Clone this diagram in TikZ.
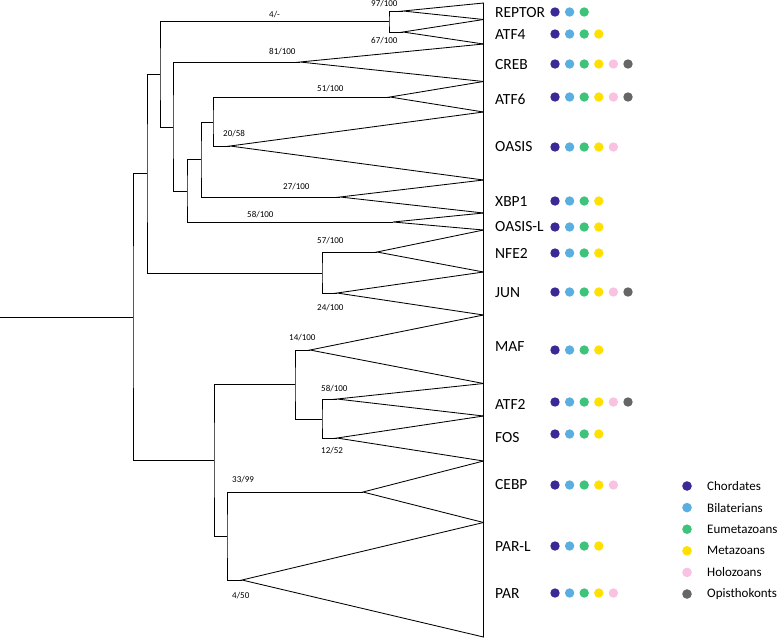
\documentclass[tikz,border=0pt]{standalone}
\usepackage{fontspec}
\setmainfont{Carlito}
\definecolor{chor}{HTML}{3A2A96}
\definecolor{bila}{HTML}{5AAEE0}
\definecolor{eume}{HTML}{3EC47A}
\definecolor{meta}{HTML}{FFE000}
\definecolor{holo}{HTML}{F9C2E2}
\definecolor{opis}{HTML}{666666}
\newcommand\dotrow[2]{\foreach \c [count=\i from 0] in {#2}{\fill[\c] (555+14.6*\i,#1) circle (4.7);}}
\begin{document}
\begin{tikzpicture}[x=1pt,y=-1pt,
  tree/.style={line width=0.95pt},
  clade/.style={line width=0.85pt, line join=miter},
  taxon/.style={anchor=west, inner sep=0pt, font=\fontsize{15.5}{18}\selectfont},
  sup/.style={anchor=west, inner sep=0pt, font=\fontsize{9}{11}\selectfont},
  leg/.style={anchor=west, inner sep=0pt, font=\fontsize{13}{15}\selectfont}]
\useasboundingbox (0,0) rectangle (778,638);
% internal nodes
\coordinate (root) at (0,317);
\coordinate (n1) at (133,317);
\coordinate (n2) at (147,173);
\coordinate (n3) at (160,74);
\coordinate (nRA) at (389,21);
\coordinate (n4) at (173,127);
\coordinate (n5) at (187,191);
\coordinate (n6) at (201,159);
\coordinate (n7) at (213,122);
\coordinate (nJ) at (322,273);
\coordinate (n10) at (214,460);
\coordinate (n11) at (295,384);
\coordinate (n13) at (322,419);
\coordinate (n12) at (227,536);
% clade apexes
\coordinate (aREP) at (403,11);
\coordinate (aATF4) at (403,32);
\coordinate (aCREB) at (300,62);
\coordinate (aATF6) at (390,97);
\coordinate (aOAS) at (230,146);
\coordinate (aXBP) at (340,197);
\coordinate (aOASL) at (393,222);
\coordinate (aNFE) at (377,252);
\coordinate (aJUN) at (337,293);
\coordinate (aMAF) at (310,350);
\coordinate (aATF2) at (337,399);
\coordinate (aFOS) at (337,438);
\coordinate (aCEBP) at (363,492);
\coordinate (aPAR) at (242,580);
% clade base boundaries
\foreach \k/\y in {0/3,1/19.5,2/44,3/81.5,4/112,5/180,6/213,7/230,8/272,9/315,10/383.5,11/416,12/461,13/522.5,14/637}
  \coordinate (b\k) at (483.5,\y);
% branches
\draw[tree] (root) -- (n1);
\draw[tree] (n2) -| (n1) |- (n10);
\draw[tree] (n3) -| (n2) |- (nJ);
\draw[tree] (nRA) -| (n3) |- (n4);
\draw[tree] (aREP) -| (nRA) |- (aATF4);
\draw[tree] (aCREB) -| (n4) |- (n5);
\draw[tree] (n6) -| (n5) |- (aOASL);
\draw[tree] (n7) -| (n6) |- (aXBP);
\draw[tree] (aATF6) -| (n7) |- (aOAS);
\draw[tree] (aNFE) -| (nJ) |- (aJUN);
\draw[tree] (n11) -| (n10) |- (n12);
\draw[tree] (aMAF) -| (n11) |- (n13);
\draw[tree] (aATF2) -| (n13) |- (aFOS);
\draw[tree] (aCEBP) -| (n12) |- (aPAR);
% clades
\draw[clade] (aREP) -- (b0) -- (b1) -- cycle;
\draw[clade] (aATF4) -- (b1) -- (b2) -- cycle;
\draw[clade] (aCREB) -- (b2) -- (b3) -- cycle;
\draw[clade] (aATF6) -- (b3) -- (b4) -- cycle;
\draw[clade] (aOAS) -- (b4) -- (b5) -- cycle;
\draw[clade] (aXBP) -- (b5) -- (b6) -- cycle;
\draw[clade] (aOASL) -- (b6) -- (b7) -- cycle;
\draw[clade] (aNFE) -- (b7) -- (b8) -- cycle;
\draw[clade] (aJUN) -- (b8) -- (b9) -- cycle;
\draw[clade] (aMAF) -- (b9) -- (b10) -- cycle;
\draw[clade] (aATF2) -- (b10) -- (b11) -- cycle;
\draw[clade] (aFOS) -- (b11) -- (b12) -- cycle;
\draw[clade] (aCEBP) -- (b12) -- (b13) -- cycle;
\draw[clade] (aPAR) -- (b13) -- (b14) -- cycle;
% support values
\node[sup] (s1) at (269,15) {4/-};
\node[sup] (s2) at (371,4) {97/100};
\node[sup] (s3) at (371,41) {67/100};
\node[sup] (s4) at (269,52) {81/100};
\node[sup] (s5) at (317,89) {51/100};
\node[sup] (s6) at (223,134) {20/58};
\node[sup] (s7) at (283,187) {27/100};
\node[sup] (s8) at (247,215) {58/100};
\node[sup] (s9) at (317,241) {57/100};
\node[sup] (s10) at (317,308) {24/100};
\node[sup] (s11) at (289,338) {14/100};
\node[sup] (s12) at (321,389) {58/100};
\node[sup] (s13) at (321,451) {12/52};
\node[sup] (s14) at (232,480) {33/99};
\node[sup] (s15) at (232,596) {4/50};
% taxon names
\node[taxon] (tREP) at (495,13) {REPTOR};
\node[taxon] (tATF4) at (495,35) {ATF4};
\node[taxon] (tCREB) at (495,65) {CREB};
\node[taxon] (tATF6) at (495,99) {ATF6};
\node[taxon] (tOAS) at (495,147) {OASIS};
\node[taxon] (tXBP) at (495,202) {XBP1};
\node[taxon] (tOASL) at (495,227) {OASIS-L};
\node[taxon] (tNFE) at (495,253) {NFE2};
\node[taxon] (tJUN) at (495,293) {JUN};
\node[taxon] (tMAF) at (495,347) {MAF};
\node[taxon] (tATF2) at (495,404) {ATF2};
\node[taxon] (tFOS) at (495,438) {FOS};
\node[taxon] (tCEBP) at (495,485) {CEBP};
\node[taxon] (tPARL) at (495,547) {PAR-L};
\node[taxon] (tPAR) at (495,594) {PAR};
% presence dots
\dotrow{12}{chor,bila,eume}
\dotrow{34}{chor,bila,eume,meta}
\dotrow{64}{chor,bila,eume,meta,holo,opis}
\dotrow{97}{chor,bila,eume,meta,holo,opis}
\dotrow{147}{chor,bila,eume,meta,holo}
\dotrow{201}{chor,bila,eume,meta}
\dotrow{227}{chor,bila,eume,meta}
\dotrow{253}{chor,bila,eume,meta}
\dotrow{292}{chor,bila,eume,meta,holo,opis}
\dotrow{350}{chor,bila,eume,meta}
\dotrow{402}{chor,bila,eume,meta,holo,opis}
\dotrow{434}{chor,bila,eume,meta}
\dotrow{485}{chor,bila,eume,meta,holo}
\dotrow{546}{chor,bila,eume,meta}
\dotrow{593}{chor,bila,eume,meta,holo}
% legend
\foreach \c/\t [count=\i from 0] in {chor/Chordates,bila/Bilaterians,eume/Eumetazoans,meta/Metazoans,holo/Holozoans,opis/Opisthokonts}{
  \fill[\c] (687,486+21.6*\i) circle (4.8);
  \node[leg] (leg\i) at (707,486+21.6*\i) {\t};
}
\end{tikzpicture}
\end{document}
